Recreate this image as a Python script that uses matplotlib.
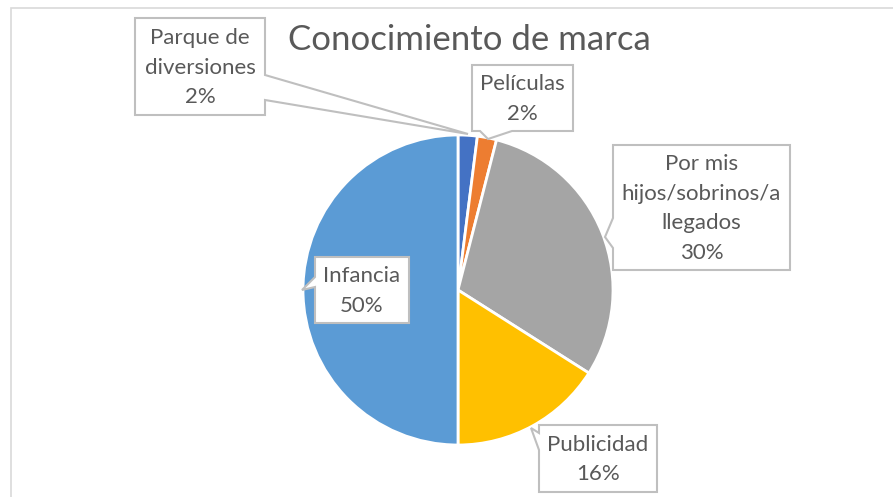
import matplotlib
matplotlib.use("Agg")
import matplotlib.pyplot as plt
import matplotlib.patches as patches

W, H = 893, 497

# data
categories = ["Parque de\ndiversiones", "Películas", "Por mis\nhijos/sobrinos/a\nllegados",
              "Publicidad", "Infancia"]
values = [2, 2, 30, 16, 50]
colors = ["#4472C4", "#ED7D31", "#A5A5A5", "#FFC000", "#5B9BD5"]
title = "Conocimiento de marca"

plt.rcParams['font.family'] = ['Lato', 'DejaVu Sans']
TXT = "#595959"
EDGE = "#BFBFBF"


def Y(y):
    # image pixel row -> axes coordinate (y up)
    return H - y


fig = plt.figure(figsize=(W / 100, H / 100), dpi=100, facecolor='white')
ax = fig.add_axes([0, 0, 1, 1], frameon=False)
ax.set_xlim(0, W)
ax.set_ylim(0, H)
ax.set_aspect('equal')
ax.axis('off')

# chart area border (only top and left edges visible in frame)
ax.add_patch(patches.Rectangle((11, Y(600)), 1000, 592, fill=False,
                               edgecolor="#D9D9D9", linewidth=1.2))

ax.pie(values, colors=colors, startangle=90, counterclock=False,
       center=(458, Y(290)), radius=155,
       wedgeprops=dict(edgecolor='white', linewidth=2))
ax.set_xlim(0, W)
ax.set_ylim(0, H)

ax.text(469, Y(40), title, ha='center', va='center', fontsize=25, color=TXT)


def callout(box, tail, label):
    # box: x0, y0, x1, y1 in image px; tail: list of points inserted into outline
    x0, y0, x1, y1 = box
    side, pts = tail
    outline = []
    corners = {'top': [(x0, y0), (x1, y0)], 'right': [(x1, y0), (x1, y1)],
               'bottom': [(x1, y1), (x0, y1)], 'left': [(x0, y1), (x0, y0)]}
    for s in ['top', 'right', 'bottom', 'left']:
        outline.append(corners[s][0])
        if s == side:
            outline.extend(pts)
    poly = [(x, Y(y)) for x, y in outline]
    ax.add_patch(patches.Polygon(poly, closed=True, facecolor='white',
                                 edgecolor=EDGE, linewidth=1.5, zorder=5))
    ax.text((x0 + x1) / 2, Y((y0 + y1) / 2 + 1), label, ha='center', va='center',
            fontsize=16, color=TXT, linespacing=1.6, zorder=6)


labels = [f"{c}\n{v}%" for c, v in zip(categories, values)]

callout((135, 18, 265, 115), ('right', [(265, 75), (468, 134), (265, 100)]), labels[0])
callout((472, 65, 573, 131), ('bottom', [(512, 131), (488, 139), (480, 131)]), labels[1])
callout((613, 145, 790, 270), ('left', [(613, 248), (605, 237), (613, 218)]), labels[2])
callout((539, 425, 657, 492), ('left', [(539, 450), (531, 428), (539, 433)]), labels[3])
callout((315, 257, 409, 323), ('left', [(315, 287), (302, 290), (315, 277)]), labels[4])

fig.savefig("out.png", dpi=100, facecolor='white')
